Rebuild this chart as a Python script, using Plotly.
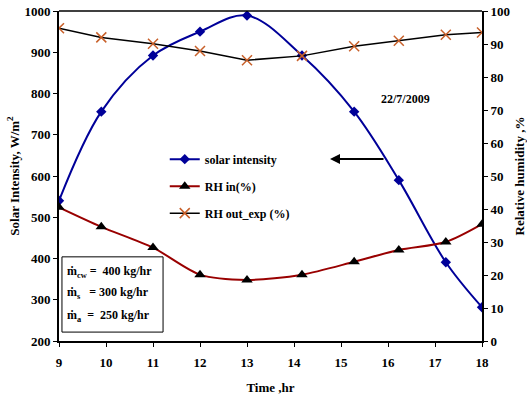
import plotly.graph_objects as go

time_hr = [9, 9.9, 11, 12, 13, 14.17, 15.28, 16.23, 17.23, 18]
solar_intensity = [540, 756, 892, 950, 989, 892, 756, 590, 391, 282]
rh_in = [40.5, 34.6, 28.3, 20.1, 18.5, 20.1, 24.0, 27.6, 30.0, 35.4]
rh_out_exp = [94.8, 92.0, 90.1, 87.9, 85.1, 86.4, 89.3, 91.0, 92.8, 93.5]

x_ticks = [9, 10, 11, 12, 13, 14, 15, 16, 17, 18]
y_ticks = [200, 300, 400, 500, 600, 700, 800, 900, 1000]
y2_ticks = [0, 10, 20, 30, 40, 50, 60, 70, 80, 90, 100]

FONT = "Liberation Serif"
fig = go.Figure()

fig.add_trace(go.Scatter(
    x=time_hr, y=solar_intensity, name="<b>solar intensity</b>",
    mode="lines+markers", line=dict(color="#000099", width=2, shape="spline", smoothing=1),
    marker=dict(symbol="diamond", size=8, color="#000099"), legendgroup="a"))
fig.add_trace(go.Scatter(
    x=time_hr, y=rh_in, name="<b>RH in(%)</b>", yaxis="y2",
    mode="lines+markers", line=dict(color="#990000", width=2, shape="spline", smoothing=0.8),
    marker=dict(symbol="triangle-up", size=10, color="black"), legendgroup="b"))
fig.add_trace(go.Scatter(
    x=time_hr, y=rh_out_exp, name="<b>RH out_exp (%)</b>", yaxis="y2",
    mode="lines+markers", line=dict(color="black", width=1.5),
    marker=dict(symbol="x-thin", size=10, line=dict(color="#C8602A", width=1.5)), legendgroup="c"))

def bold(vals):
    return ["<b>%s</b>" % v for v in vals]

tickfont = dict(family=FONT, size=13, color="black")
fig.update_layout(
    width=527, height=398, margin=dict(l=59, r=45, t=11, b=57, autoexpand=False),
    paper_bgcolor="white", plot_bgcolor="white",
    font=dict(family=FONT, color="black"),
    xaxis=dict(range=[9, 18], tickvals=x_ticks, ticktext=bold(x_ticks), showgrid=False, zeroline=False, automargin=False,
               showline=True, linecolor="black", linewidth=2, ticks="outside", ticklen=4,
               tickcolor="black", mirror=False, tickfont=tickfont, ticklabelstandoff=4,
               title=dict(text="<b>Time ,hr</b>", font=dict(family=FONT, size=13), standoff=14)),
    yaxis=dict(range=[200, 1000], tickvals=y_ticks, ticktext=bold(y_ticks), showgrid=False, zeroline=False, automargin=False,
               showline=True, linecolor="black", linewidth=2, ticks="outside", ticklen=4,
               tickcolor="black", tickfont=tickfont,
               title=dict(text="<b>Solar Intensity, W/m<sup>2</sup></b>", font=dict(family=FONT, size=13), standoff=2)),
    yaxis2=dict(range=[0, 100], tickvals=y2_ticks, ticktext=bold(y2_ticks), overlaying="y", side="right", showgrid=False, automargin=False,
                zeroline=False, showline=True, linecolor="black", linewidth=2, ticks="outside",
                ticklen=4, tickcolor="black", tickfont=tickfont,
                title=dict(text="<b>Relative humidity ,%</b>", font=dict(family=FONT, size=13), standoff=6)),
    legend=dict(x=0.25, y=0.595, xanchor="left", yanchor="top", bgcolor="rgba(0,0,0,0)",
                font=dict(family=FONT, size=12), tracegroupgap=8, itemwidth=30),
    showlegend=True,
)
# top frame line
fig.add_shape(type="line", xref="paper", yref="paper", x0=0, x1=1, y0=1, y1=1,
              line=dict(color="black", width=1.5))
# text box
fig.add_shape(type="rect", xref="paper", yref="paper", x0=0.007, x1=0.246, y0=0.027, y1=0.255,
              line=dict(color="black", width=1), fillcolor="white")
lines = ["<b>ṁ<sub>cw</sub> =  400 kg/hr</b>", "<b>ṁ<sub>s</sub>   = 300 kg/hr</b>", "<b>ṁ<sub>a</sub>  =  250 kg/hr</b>"]
ys = [0.21, 0.145, 0.075]
for t, yy in zip(lines, ys):
    fig.add_annotation(text=t, xref="paper", yref="paper", x=0.015, y=yy, xanchor="left",
                       yanchor="middle", showarrow=False, font=dict(family=FONT, size=12))
fig.add_annotation(text="<b>22/7/2009</b>", xref="paper", yref="paper", x=0.818, y=0.762,
                   xanchor="center", showarrow=False, font=dict(family=FONT, size=12))
# arrow
fig.add_annotation(xref="paper", yref="paper", x=(330-59)/423, y=(341-159)/330,
                   axref="pixel", ayref="pixel", ax=55, ay=0, text="", showarrow=True,
                   arrowhead=2, arrowsize=1, arrowwidth=2, arrowcolor="black")

fig.write_html("out.html")
